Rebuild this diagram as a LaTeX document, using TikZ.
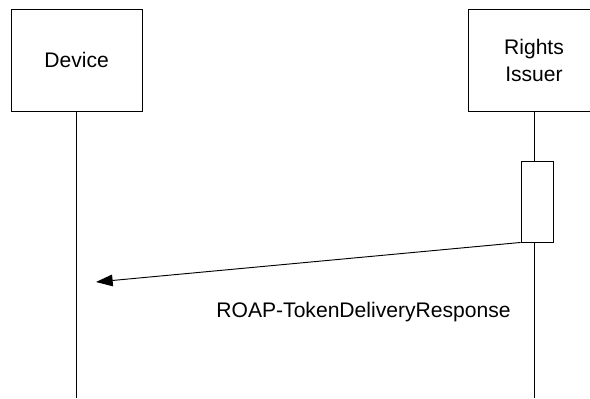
\documentclass[tikz,border=0pt]{standalone}
\usepackage{fontspec}
\setmainfont{Liberation Sans}
\usepackage{tikz}
\usetikzlibrary{calc, arrows, positioning, arrows.meta}

\begin{document}
\begin{tikzpicture}[line width=0.8pt,
	entity/.style={draw, rectangle, minimum width=3.93cm, minimum height=3.06cm, align=center, font=\fontsize{18}{23}\selectfont},
	msg/.style={font=\fontsize{18}{23}\selectfont}]
	\useasboundingbox (0,0) rectangle (17.7,11.94);
	
	%Entidades
	\node[entity] (dev) at (2.3,10.14) {Device};
	\node[entity, minimum width=3.96cm] (ri) at (16.02,10.14) {Rights\\Issuer};
	
	%Activacion
	\node[draw, rectangle, minimum width=0.96cm, minimum height=2.43cm] (act) at (16.11,5.895) {};
	
	%Lineas de vida
	\coordinate (devend) at (2.3,0);
	\coordinate (riend) at (16.02,0);
	\draw (dev.south) -- (devend);
	\draw (ri.south) -- (ri.south |- act.north);
	\draw (ri.south |- act.south) -- (riend);
	
	%Mensaje
	\coordinate (tip) at (2.88,3.48);
	\draw[arrows={-Triangle[length=5mm,width=3.5mm,black,fill=black]}] (act.south west) -- (tip);
	\node[msg, anchor=base] (resp) at (10.905,2.43) {ROAP-TokenDeliveryResponse};
	
\end{tikzpicture}
\end{document}
